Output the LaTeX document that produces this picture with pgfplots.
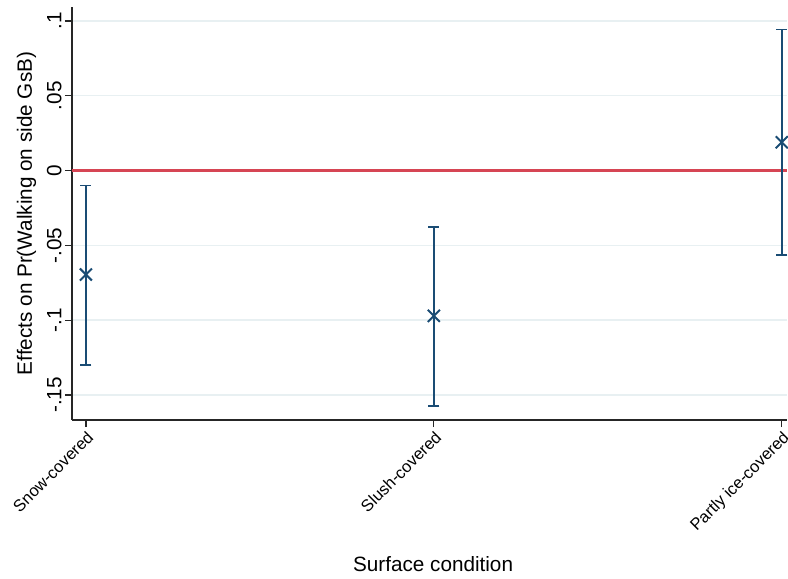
\documentclass[border=0pt]{standalone}
\usepackage{fontspec}
\setmainfont{Liberation Sans}
\usepackage{pgfplots}
\pgfplotsset{compat=1.18}
\definecolor{stnavy}{RGB}{26,76,116}
\definecolor{stred}{RGB}{214,69,84}
\definecolor{stgrid}{RGB}{232,240,242}
\newcommand\chartfont{\fontsize{20.7bp}{24bp}\selectfont}
\newcommand\catfont{\fontsize{16.5bp}{19bp}\selectfont}
\pgfplotstableread{
x y ep em
0 -0.0695 0.0595 0.0603
1 -0.0971 0.0596 0.0600
2 0.0189 0.0753 0.0751
}\effects
\begin{document}
\begin{tikzpicture}
\useasboundingbox (0,0) rectangle (788bp,579bp);
\begin{axis}[
  at={(72bp,159bp)}, anchor=south west,
  scale only axis, width=715bp, height=413bp,
  xmin=-0.04, xmax=2.015, ymin=-0.1667, ymax=0.1093,
  axis x line*=bottom, axis y line*=left,
  axis line style={black!85, line width=1.2bp, -},
  tick style={black!85, line width=1.2bp},
  major tick length=7bp, tick align=outside,
  xtick={0,1,2},
  xticklabels={Snow-covered,Slush-covered,Partly ice-covered},
  xticklabel style={rotate=45, anchor=north east, font=\catfont, inner sep=2bp},
  ytick={-0.15,-0.1,-0.05,0,0.05,0.1},
  yticklabels={-.15,-.1,-.05,0,.05,.1},
  yticklabel style={rotate=90, anchor=south, font=\chartfont},
  ymajorgrids, major grid style={stgrid, line width=1.5bp},
  xlabel={Surface condition},
  xlabel style={at={(axis description cs:0.505,-0.368)}, anchor=base, font=\chartfont},
  ylabel={Effects on Pr(Walking on side GsB)},
  ylabel style={at={(axis description cs:-0.056,0.5)}, anchor=base, font=\chartfont},
  clip=false,
]
\addplot[stred, line width=2.2bp] coordinates {(-0.04,0) (2.015,0)};
\addplot[only marks, stnavy, mark=x, mark size=8.5bp, mark options={line width=2bp},
  error bars/.cd, y dir=both, y explicit,
  error bar style={line width=1.8bp, stnavy},
  error mark options={rotate=90, mark size=5.5bp, line width=1.8bp, stnavy}]
  table[x=x, y=y, y error plus=ep, y error minus=em] {\effects};
\end{axis}
\end{tikzpicture}
\end{document}
